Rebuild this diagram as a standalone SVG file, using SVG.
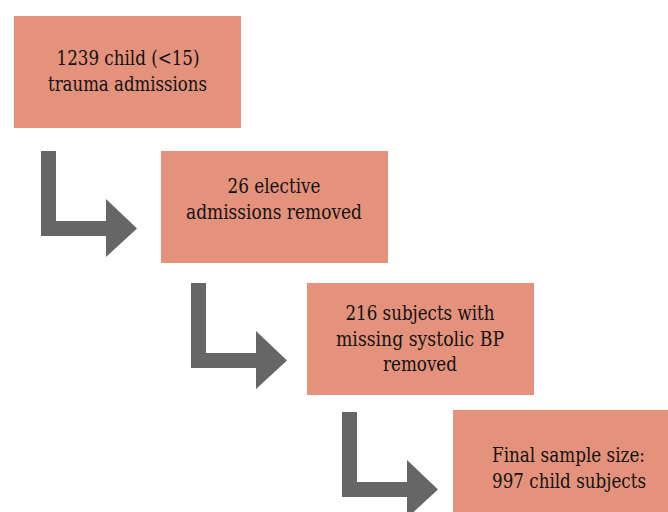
<svg xmlns="http://www.w3.org/2000/svg" xmlns:xlink="http://www.w3.org/1999/xlink" width="668" height="512" viewBox="0 0 668 512">
<style>
.box{fill:#E4927B;}
.lbl{font-family:'DejaVu Serif','Liberation Serif',serif;font-size:19.5px;fill:#111;text-anchor:middle;}
.arr{fill:#666666;}
</style>
<defs>
<path id="bent" class="arr" d="M0,0 H15 V70 H65 V48 L96,77.5 L65,106 V85 H0 Z"/>
</defs>
<rect width="668" height="512" fill="#ffffff"/>
<g id="connectors">
<use xlink:href="#bent" href="#bent" transform="translate(41,151)"/>
<use xlink:href="#bent" href="#bent" transform="translate(191,283)"/>
<use xlink:href="#bent" href="#bent" transform="translate(342,412)"/>
</g>
<g id="node1">
<rect class="box" x="14" y="16" width="227" height="112"/>
<text class="lbl" x="128" y="65" textLength="143" lengthAdjust="spacingAndGlyphs">1239 child (&lt;15)</text>
<text class="lbl" x="127.5" y="90.5" textLength="159" lengthAdjust="spacingAndGlyphs">trauma admissions</text>
</g>
<g id="node2">
<rect class="box" x="161" y="151" width="227" height="112"/>
<text class="lbl" x="274" y="193" textLength="93" lengthAdjust="spacingAndGlyphs">26 elective</text>
<text class="lbl" x="274" y="219" textLength="176" lengthAdjust="spacingAndGlyphs">admissions removed</text>
</g>
<g id="node3">
<rect class="box" x="307" y="283" width="227" height="112"/>
<text class="lbl" x="420" y="320" textLength="149" lengthAdjust="spacingAndGlyphs">216 subjects with</text>
<text class="lbl" x="420" y="345.5" textLength="168" lengthAdjust="spacingAndGlyphs">missing systolic BP</text>
<text class="lbl" x="420" y="371" textLength="74" lengthAdjust="spacingAndGlyphs">removed</text>
</g>
<g id="node4">
<rect class="box" x="453" y="410" width="215" height="102"/>
<text class="lbl" x="568.5" y="462" textLength="153" lengthAdjust="spacingAndGlyphs">Final sample size:</text>
<text class="lbl" x="569" y="487.5" textLength="154" lengthAdjust="spacingAndGlyphs">997 child subjects</text>
</g>
</svg>
